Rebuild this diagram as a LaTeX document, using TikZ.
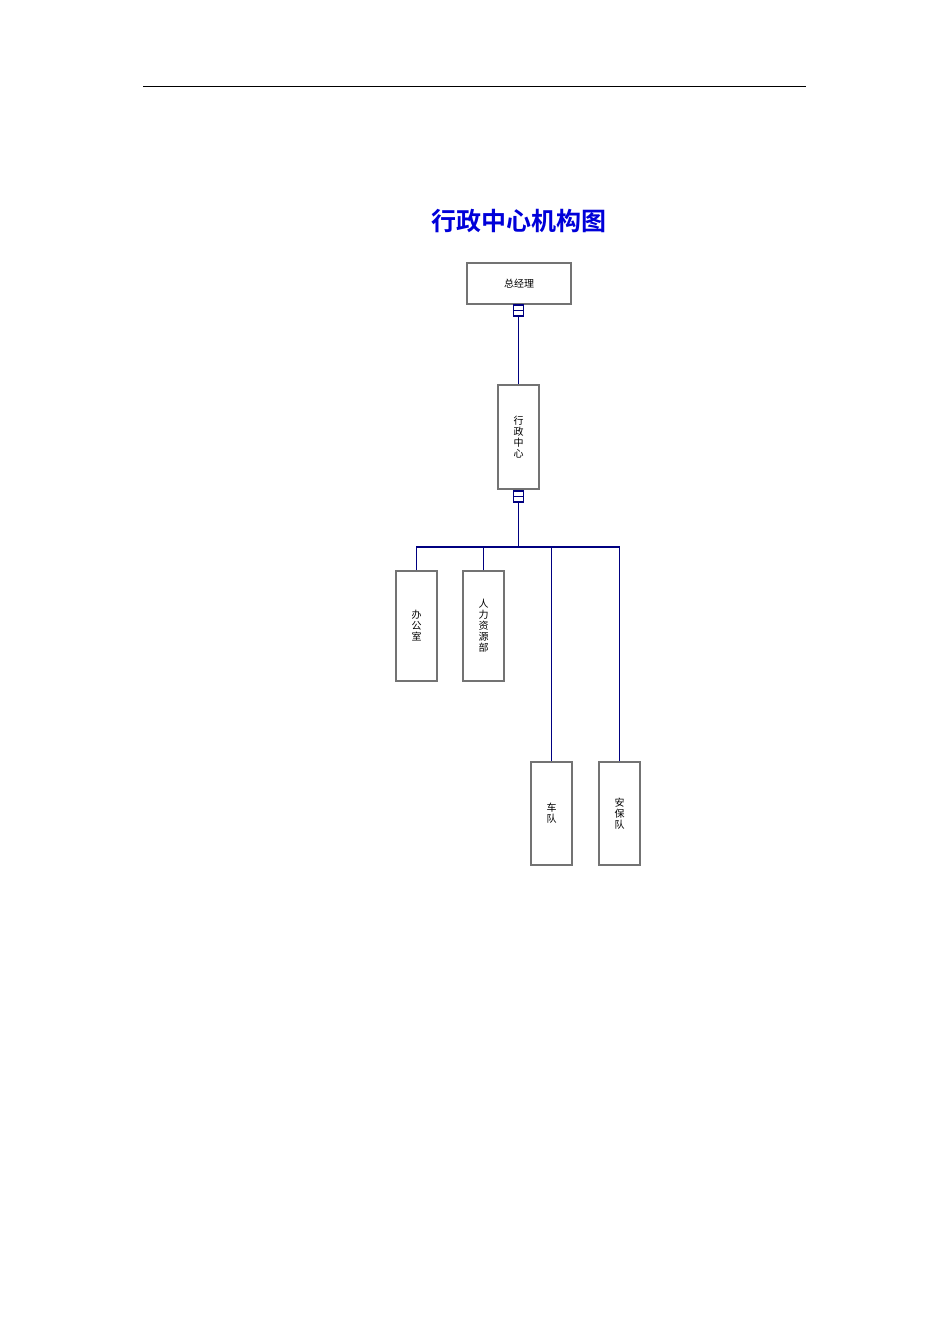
\documentclass[tikz,border=0pt]{standalone}
\usepackage{fontspec}
\newfontfamily\cjk{Noto Sans CJK SC}
\newfontfamily\cjkb{Noto Sans CJK SC Bold}
\begin{document}
\begin{tikzpicture}[x=1pt,y=-1pt,
  box/.style={draw=black!55,line width=1.2pt,fill=white,inner sep=0pt,font=\cjk\fontsize{10}{11}\selectfont,align=center},
  link/.style={draw=blue!50!black,line width=1.3pt},
  conn/.style={draw=blue!50!black,line width=1.1pt,fill=white,minimum width=10pt,minimum height=11pt,inner sep=0pt,
    path picture={\draw[blue!50!black,line width=1pt] (path picture bounding box.west)--(path picture bounding box.east);}}]
\useasboundingbox (0,0) rectangle (950,1344);
\draw[line width=0.8pt] (143,86) -- (806,86);
\node[text=blue!85!black,font=\cjkb\fontsize{25}{27}\selectfont] (title) at (519,221) {行政中心机构图};
\node[box,minimum width=104pt,minimum height=41pt] (gm) at (519,283.5) {总经理};
\node[box,minimum width=41pt,minimum height=104pt] (ac) at (518.5,437) {行\\政\\中\\心};
\node[box,minimum width=41pt,minimum height=110pt] (of) at (416.5,626) {办\\公\\室};
\node[box,minimum width=41pt,minimum height=110pt] (hr) at (483.5,626) {人\\力\\资\\源\\部};
\node[box,minimum width=41pt,minimum height=103pt] (cd) at (551.5,813.5) {车\\队};
\node[box,minimum width=41pt,minimum height=103pt] (ab) at (619.5,813.5) {安\\保\\队};
\node[conn] (c1) at (518.5,310.5) {};
\node[conn] (c2) at (518.5,496.5) {};
\coordinate (bus) at (518.5,547);
\draw[link] (c1.south) -- (ac.north);
\draw[link] (c2.south) -- (bus);
\draw[link] (of.north) -- (of.north |- bus) -- (ab.north |- bus) -- (ab.north);
\draw[link] (hr.north) -- (hr.north |- bus);
\draw[link] (cd.north) -- (cd.north |- bus);
\end{tikzpicture}
\end{document}
